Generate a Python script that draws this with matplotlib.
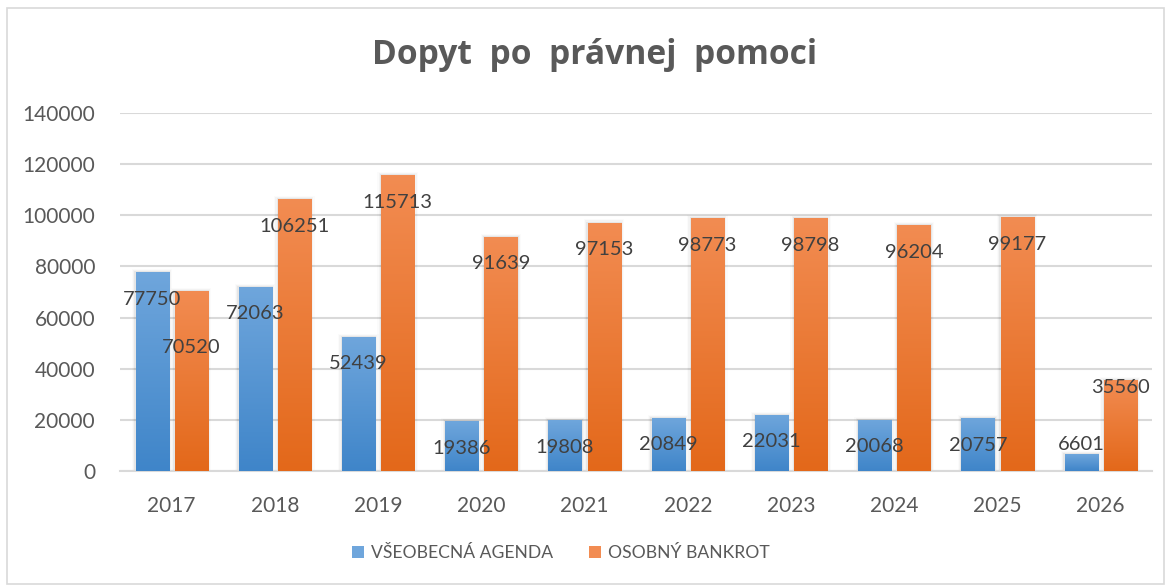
import matplotlib
matplotlib.use("Agg")
import matplotlib.pyplot as plt
import numpy as np
from matplotlib.patches import Rectangle, Patch
import matplotlib.colors as mcolors

plt.rcParams['font.family'] = ['Lato', 'DejaVu Sans']

years = ["2017", "2018", "2019", "2020", "2021", "2022", "2023", "2024", "2025", "2026"]
vseobecna = [77750, 72063, 52439, 19386, 19808, 20849, 22031, 20068, 20757, 6601]
bankrot = [70520, 106251, 115713, 91639, 97153, 98773, 98798, 96204, 99177, 35560]
series_names = ["VŠEOBECNÁ AGENDA", "OSOBNÝ BANKROT"]

# gradient colours (top, bottom)
blue_grad = ("#6fa6dc", "#3f85c9")
orange_grad = ("#f28c52", "#e3681a")

fig = plt.figure(figsize=(11.71, 5.87), dpi=100)
ax = fig.add_axes([0.1025, 0.1976, 0.8815, 0.61])

x = np.arange(len(years))
w = 0.32
off = 0.19


def gradient_bars(bars, colors):
    cmap = mcolors.LinearSegmentedColormap.from_list("g", [colors[1], colors[0]])
    grad = np.linspace(0, 1, 256).reshape(-1, 1)
    for b in bars:
        bx, by = b.get_x(), b.get_y()
        bw, bh = b.get_width(), b.get_height()
        # soft shadow
        for k, a in enumerate([0.05, 0.03, 0.015]):
            sh = Rectangle((bx - 0.012 * (k + 1), by), bw + 0.024 * (k + 1), bh + 400 * (k + 1),
                           facecolor="black", alpha=a, edgecolor="none", zorder=2)
            ax.add_patch(sh)
        im = ax.imshow(grad, cmap=cmap, origin="lower", aspect="auto",
                       extent=[bx, bx + bw, by, by + bh], zorder=3)
        im.set_clip_path(b)
        b.set_facecolor("none")


b1 = ax.bar(x - off, vseobecna, w, zorder=3, edgecolor="none")
b2 = ax.bar(x + off, bankrot, w, zorder=3, edgecolor="none")
gradient_bars(b1, blue_grad)
gradient_bars(b2, orange_grad)

ax.set_xlim(-0.5, len(years) - 0.5)
ax.set_ylim(0, 140000)
ax.set_yticks(np.arange(0, 140001, 20000))
ax.set_xticks(x)
ax.set_xticklabels(years)
ax.yaxis.grid(True, color="#d9d9d9", linewidth=1.5, zorder=0)
ax.set_axisbelow(True)
for s in ["top", "right", "left"]:
    ax.spines[s].set_visible(False)
ax.spines["bottom"].set_color("#d9d9d9")
ax.spines["bottom"].set_linewidth(1.5)
ax.tick_params(axis="both", length=0, labelsize=15, labelcolor="#595959")
ax.tick_params(axis="x", pad=18)
ax.tick_params(axis="y", pad=18)

# data labels: centred on bars, a bit below the bar top
special = {(0, 1): -41, (9, 1): -5, (9, 0): 7}
for si, (vals, offs) in enumerate([(vseobecna, -off), (bankrot, off)]):
    for i, v in enumerate(vals):
        dy = special.get((i, si), -19.5)
        ax.annotate(str(v), (x[i] + offs, v), xytext=(0, dy), textcoords="offset points",
                    ha="center", va="center", fontsize=14.5, color="#404040", zorder=5)

fig.text(0.508, 0.906, "Dopyt  po  právnej  pomoci", ha="center", va="center",
         fontsize=24.2, fontweight="bold", color="#595959", family=["Open Sans", "DejaVu Sans"])

handles = [Patch(facecolor=blue_grad[0]), Patch(facecolor=orange_grad[0])]
fig.legend(handles, series_names, loc="center", bbox_to_anchor=(0.479, 0.058), ncol=2,
           frameon=False, fontsize=12.6, labelcolor="#595959", handlelength=0.7,
           handleheight=0.7, columnspacing=2.0, handletextpad=0.4)

fig.patches.append(Rectangle((0.006, 0.005), 0.988, 0.982, transform=fig.transFigure,
                             fill=False, edgecolor="#d9d9d9", linewidth=1.2))

fig.savefig("out.png", dpi=100)
